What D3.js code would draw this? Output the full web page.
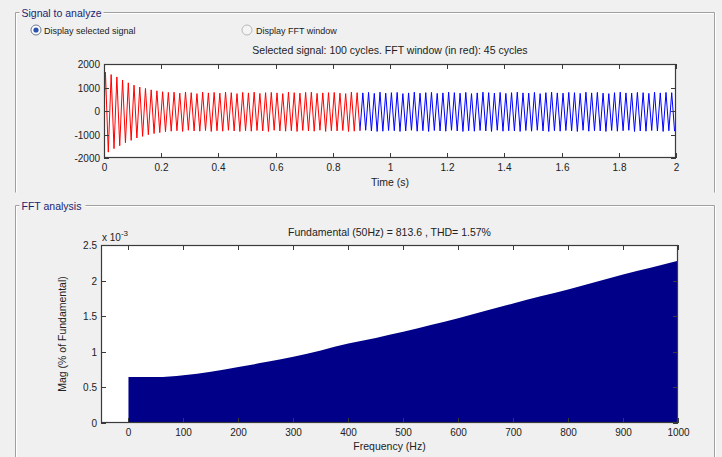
<!DOCTYPE html>
<html>
<head>
<meta charset="utf-8">
<script src="https://cdn.jsdelivr.net/npm/d3@7/dist/d3.min.js"></script>
<style>
html,body{margin:0;padding:0;background:#f0f0f0;}
svg{display:block;font-family:"Liberation Sans",Arial,sans-serif;}
</style>
</head>
<body>
<svg id="chart" width="722" height="457"></svg>
<script>
// ---------- DATA ----------
const signalTitle = "Selected signal: 100 cycles. FFT window (in red): 45 cycles";
const fftTitle = "Fundamental (50Hz) = 813.6 , THD= 1.57%";
const cyclePeriod = 0.02;       // s (50 Hz)
const fftWindowCycles = 45;
// per-cycle positive and negative peaks of the selected signal
const cycleMax = [1650,1550,1450,1320,1200,1100,1020,960,900,860,
  820,790,800,760,810,780,740,800,770,790,
  760,800,780,740,790,770,800,750,780,790,
  770,740,800,780,760,790,800,750,770,780,
  790,760,740,800,780,770,790,750,800,760,
  780,790,740,770,800,760,780,790,750,770,
  800,780,760,790,740,770,800,780,760,790,
  750,780,800,770,760,790,740,780,800,770,
  760,790,780,750,800,770,790,760,740,780,
  800,770,760,790,780,750,800,770,790,780];
const cycleMin = [-1750,-1600,-1480,-1350,-1250,-1150,-1080,-1010,-960,-920,
  -880,-860,-840,-870,-820,-850,-860,-830,-870,-840,
  -860,-820,-850,-870,-840,-860,-830,-850,-870,-820,
  -850,-860,-840,-870,-830,-850,-860,-820,-870,-840,
  -850,-830,-870,-860,-840,-820,-850,-870,-860,-830,
  -840,-870,-850,-820,-860,-840,-870,-830,-850,-860,
  -820,-850,-870,-840,-860,-830,-850,-870,-820,-860,
  -840,-850,-870,-830,-860,-820,-850,-870,-840,-860,
  -830,-850,-870,-820,-860,-840,-850,-870,-830,-860,
  -840,-820,-870,-850,-860,-830,-850,-870,-840,-860];
const timeTicks = [0,0.2,0.4,0.6,0.8,1,1.2,1.4,1.6,1.8,2];
const sigTicks = [-2000,-1000,0,1000,2000];

const freqs = [0,50,100,150,200,250,300,350,400,450,500,550,600,650,700,750,800,850,900,950,1000];
const mags  = [0.647,0.645,0.67,0.72,0.785,0.855,0.93,1.02,1.115,1.195,1.28,1.375,1.47,1.575,1.68,1.78,1.875,1.98,2.085,2.18,2.28]; // x1e-3 %
const freqTicks = [0,100,200,300,400,500,600,700,800,900,1000];
const magTicks = [0,0.5,1,1.5,2,2.5];

// ---------- DRAW ----------
const svg = d3.select("#chart");
const axisCol = "#3a3a3a";
const legendCol = "#1c2470";

function panel(x0,y0,x1,y1,label,lw){
  const g = svg.append("g");
  const d = `M${x0+lw+4},${y0} H${x1} V${y1} M${x0+4},${y0} H${x0} V${y1}`;
  g.append("path").attr("d",d).attr("fill","none").attr("stroke","#a0a0a0").attr("stroke-width",1);
  g.append("path").attr("d",`M${x0+lw+4},${y0+1} H${x1-1} M${x0+4},${y0+1} H${x0+1} V${y1} M${x1+1},${y0} V${y1}`)
    .attr("fill","none").attr("stroke","#ffffff").attr("stroke-width",1);
  g.append("text").attr("x",x0+6).attr("y",y0+4).attr("font-size",10.5).attr("fill",legendCol).text(label);
}
panel(15.5,12.5,714.5,192.5,"Signal to analyze",84);
panel(15.5,205.5,714.5,470,"FFT analysis",66);

// radio buttons
const r1 = svg.append("g");
r1.append("circle").attr("cx",36).attr("cy",30).attr("r",5).attr("fill","#fff").attr("stroke","#6a7a90");
r1.append("circle").attr("cx",36).attr("cy",30).attr("r",2.6).attr("fill","#2a50b0");
r1.append("text").attr("x",44).attr("y",33.5).attr("font-size",9).attr("fill","#222").text("Display selected signal");
const r2 = svg.append("g");
r2.append("circle").attr("cx",247).attr("cy",30).attr("r",5).attr("fill","#f4f4f4").attr("stroke","#b8b8b8");
r2.append("text").attr("x",256).attr("y",33.5).attr("font-size",9).attr("fill","#222").text("Display FFT window");

// ----- top plot -----
const tp = {l:104, r:676, t:64, b:158};
const xT = d3.scaleLinear().domain([0,2]).range([tp.l,tp.r]);
const yT = d3.scaleLinear().domain([-2000,2000]).range([tp.b,tp.t]);
svg.append("rect").attr("x",tp.l).attr("y",tp.t).attr("width",tp.r-tp.l).attr("height",tp.b-tp.t).attr("fill","#fff");

const pts = [];
cycleMax.forEach((v,i)=>{
  pts.push({t:i*cyclePeriod+cyclePeriod*0.25, v:v, c:i});
  pts.push({t:i*cyclePeriod+cyclePeriod*0.75, v:cycleMin[i], c:i});
});
pts.unshift({t:0,v:0,c:0});
const redPts = pts.filter(p=>p.c<fftWindowCycles);
const bluePts = pts.filter(p=>p.c>=fftWindowCycles-1 && !(p.c===fftWindowCycles-1 && p.v>0));
const line = d3.line().x(d=>xT(d.t)).y(d=>yT(d.v));
const clipT = svg.append("clipPath").attr("id","clipT").append("rect")
  .attr("x",tp.l).attr("y",tp.t).attr("width",tp.r-tp.l).attr("height",tp.b-tp.t);
svg.append("path").datum(bluePts).attr("d",line).attr("fill","none").attr("stroke","#0000ff").attr("stroke-width",1).attr("clip-path","url(#clipT)");
svg.append("path").datum(redPts).attr("d",line).attr("fill","none").attr("stroke","#ff0000").attr("stroke-width",1).attr("clip-path","url(#clipT)");

function boxAxes(x,y,box,xt,yt,xfmt,yfmt){
  const g = svg.append("g").attr("font-size",10).attr("fill","#222");
  const tl = 5;
  g.append("rect").attr("x",box.l+0.5).attr("y",box.t+0.5).attr("width",box.r-box.l-1).attr("height",box.b-box.t-1)
    .attr("fill","none").attr("stroke",axisCol).attr("stroke-width",1.2);
  xt.forEach(v=>{
    const px = Math.round(x(v))+0.5;
    g.append("line").attr("x1",px).attr("x2",px).attr("y1",box.b).attr("y2",box.b-tl).attr("stroke",axisCol);
    g.append("line").attr("x1",px).attr("x2",px).attr("y1",box.t).attr("y2",box.t+tl).attr("stroke",axisCol);
    g.append("text").attr("x",px).attr("y",box.b+13).attr("text-anchor","middle").text(xfmt(v));
  });
  yt.forEach(v=>{
    const py = Math.round(y(v))+0.5;
    g.append("line").attr("x1",box.l).attr("x2",box.l+tl).attr("y1",py).attr("y2",py).attr("stroke",axisCol);
    g.append("line").attr("x1",box.r).attr("x2",box.r-tl).attr("y1",py).attr("y2",py).attr("stroke",axisCol);
    g.append("text").attr("x",box.l-4).attr("y",py+3.5).attr("text-anchor","end").text(yfmt(v));
  });
}
boxAxes(xT,yT,tp,timeTicks,sigTicks,d=>String(d),d=>String(d));
svg.append("text").attr("x",(tp.l+tp.r)/2).attr("y",54).attr("text-anchor","middle").attr("font-size",10.5).attr("fill","#222").text(signalTitle);
svg.append("text").attr("x",(tp.l+tp.r)/2).attr("y",186).attr("text-anchor","middle").attr("font-size",10.5).attr("fill","#222").text("Time (s)");

// ----- bottom plot -----
const bp = {l:101, r:678, t:245, b:423};
const xF = d3.scaleLinear().domain([-50,1000]).range([bp.l,bp.r]);
const yF = d3.scaleLinear().domain([0,2.5]).range([bp.b,bp.t]);
svg.append("rect").attr("x",bp.l).attr("y",bp.t).attr("width",bp.r-bp.l).attr("height",bp.b-bp.t).attr("fill","#fff");
const area = d3.area().x((d,i)=>xF(freqs[i])).y0(yF(0)).y1(d=>yF(d)).curve(d3.curveMonotoneX);
svg.append("path").datum(mags).attr("d",area).attr("fill","#000088");
boxAxes(xF,yF,bp,freqTicks,magTicks,d=>String(d),d=>String(d));
svg.append("text").attr("x",(bp.l+bp.r)/2).attr("y",236).attr("text-anchor","middle").attr("font-size",10.5).attr("fill","#222").text(fftTitle);
const ex = svg.append("text").attr("x",bp.l+1).attr("y",241).attr("font-size",10).attr("fill","#222");
ex.append("tspan").text("x 10");
ex.append("tspan").attr("dy",-5).attr("font-size",8).text("-3");
svg.append("text").attr("x",(bp.l+bp.r)/2).attr("y",450).attr("text-anchor","middle").attr("font-size",10.5).attr("fill","#222").text("Frequency (Hz)");
svg.append("text").attr("transform",`translate(66,${(bp.t+bp.b)/2}) rotate(-90)`).attr("text-anchor","middle").attr("font-size",10.5).attr("fill","#222").text("Mag (% of Fundamental)");
</script>
</body>
</html>
